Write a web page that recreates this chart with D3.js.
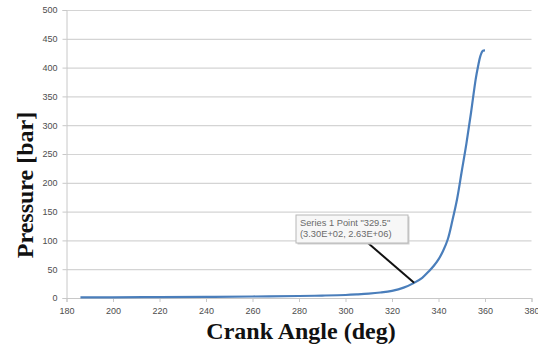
<!DOCTYPE html>
<html><head><meta charset="utf-8">
<script src="https://cdn.jsdelivr.net/npm/d3@7"></script>
<style>body{margin:0;background:#fff}svg{display:block}</style>
</head><body>
<svg id="c" width="538" height="347"></svg>
<script>
const crankAngle = [186,200,220,240,260,280,290,300,305,310,315,320,325,329.5,333,336,338,340,342,344,346,348,350,352,354,356,357,358,359,360];
const pressure   = [1.0,1.2,1.5,2.0,2.6,3.5,4.2,5.2,6.2,7.5,9.5,12.5,18,26.3,35,47,56,67,82,102,135,172,220,268,322,380,402,420,429,430];
const xTicks = [180,200,220,240,260,280,300,320,340,360,380];
const yTicks = [0,50,100,150,200,250,300,350,400,450,500];
const calloutLines = ['Series 1 Point "329.5"', '(3.30E+02, 2.63E+06)'];
const calloutIndex = 13;

const svg = d3.select("#c");
const x = d3.scaleLinear().domain([180,380]).range([66.5,531.5]);
const y = d3.scaleLinear().domain([0,500]).range([298,10]);

// gridlines
svg.append("g").selectAll("line").data(yTicks.filter(d=>d>0)).join("line")
  .attr("x1",x(180)).attr("x2",x(380)).attr("y1",d=>y(d)+0.5).attr("y2",d=>y(d)+0.5)
  .attr("stroke","#d4d4d4").attr("stroke-width",1.2);

// y axis
const ya = svg.append("g").attr("transform",`translate(${x(180)},0)`)
  .call(d3.axisLeft(y).tickValues(yTicks).tickSize(4).tickPadding(5));
ya.select(".domain").attr("stroke","#c8c8c8");
ya.selectAll(".tick line").attr("stroke","#c8c8c8");
ya.selectAll("text").attr("font-family","Liberation Sans, Arial, sans-serif").attr("font-size",9).attr("fill","#4d4d4d");

// x axis
const xa = svg.append("g").attr("transform",`translate(0,${y(0)})`)
  .call(d3.axisBottom(x).tickValues(xTicks).tickSize(4).tickPadding(6));
xa.select(".domain").attr("stroke","#c8c8c8");
xa.selectAll(".tick line").attr("stroke","#c8c8c8");
xa.selectAll("text").attr("font-family","Liberation Sans, Arial, sans-serif").attr("font-size",9).attr("fill","#4d4d4d");

// curve
const data = crankAngle.map((a,i)=>({a, p:pressure[i]}));
svg.append("path").datum(data)
  .attr("d", d3.line().x(d=>x(d.a)).y(d=>y(d.p)).curve(d3.curveCatmullRom.alpha(0.5)))
  .attr("fill","none").attr("stroke","#4a7ebb").attr("stroke-width",2.2);

// callout
const pt = data[calloutIndex];
const bx = 296, by = 215, bw = 112, bh = 28;
svg.append("line").attr("x1",368).attr("y1",by+bh).attr("x2",x(pt.a)).attr("y2",y(pt.p))
  .attr("stroke","#111").attr("stroke-width",2);
svg.append("rect").attr("x",bx+1.5).attr("y",by+1.5).attr("width",bw).attr("height",bh)
  .attr("fill","#cfcfcf");
svg.append("rect").attr("x",bx).attr("y",by).attr("width",bw).attr("height",bh)
  .attr("fill","#f7f7f7").attr("stroke","#b8b8b8").attr("stroke-width",1);
svg.append("g").selectAll("text").data(calloutLines).join("text")
  .attr("x",bx+4).attr("y",(d,i)=>by+11+i*11)
  .attr("font-family","Liberation Sans, Arial, sans-serif").attr("font-size",9.3).attr("fill","#6a6a6a")
  .text(d=>d);

// axis titles
svg.append("text").attr("x",301).attr("y",339).attr("text-anchor","middle")
  .attr("font-family","Liberation Serif, Times New Roman, serif").attr("font-weight","bold")
  .attr("font-size",24).attr("fill","#111").text("Crank Angle (deg)");
svg.append("text").attr("transform","translate(33,185) rotate(-90)").attr("text-anchor","middle")
  .attr("font-family","Liberation Serif, Times New Roman, serif").attr("font-weight","bold")
  .attr("font-size",24).attr("fill","#111").text("Pressure [bar]");
</script>
</body></html>
